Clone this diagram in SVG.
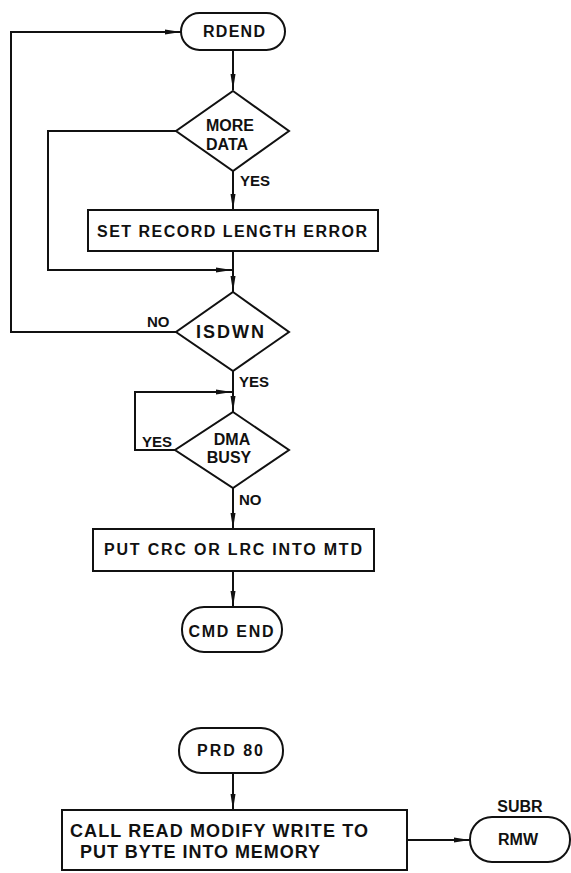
<svg xmlns="http://www.w3.org/2000/svg" width="571" height="873" viewBox="0 0 571 873">
<defs>
<marker id="ah" viewBox="0 0 16 6" refX="16" refY="3" markerWidth="16" markerHeight="6" markerUnits="userSpaceOnUse" orient="auto">
<path d="M0,0.5 L16,3 L0,5.5 Z" fill="#111"/>
</marker>
<style>
.s{fill:#fff;stroke:#111;stroke-width:2}
.c{fill:none;stroke:#111;stroke-width:2}
.t{font-family:"Liberation Sans",Arial,sans-serif;font-size:16px;font-weight:bold;fill:#111;text-anchor:middle}
.l{font-family:"Liberation Sans",Arial,sans-serif;font-size:15px;font-weight:bold;fill:#111}
.big{font-size:18px}
</style>
</defs>
<rect width="571" height="873" fill="#fff"/>
<g id="connectors">
<path class="c" d="M233,50 V90" marker-end="url(#ah)"/>
<path class="c" d="M233,171 V210" marker-end="url(#ah)"/>
<path class="c" d="M176,131 H48 V270 H232" marker-end="url(#ah)"/>
<path class="c" d="M233,251 V292" marker-end="url(#ah)"/>
<path class="c" d="M176,332 H11 V32 H181" marker-end="url(#ah)"/>
<path class="c" d="M233,371 V412" marker-end="url(#ah)"/>
<path class="c" d="M175,450 H135 V392 H232" marker-end="url(#ah)"/>
<path class="c" d="M233,488 V529" marker-end="url(#ah)"/>
<path class="c" d="M233,571 V607" marker-end="url(#ah)"/>
<path class="c" d="M233,773 V810" marker-end="url(#ah)"/>
<path class="c" d="M407,840 H470" marker-end="url(#ah)"/>
<text class="l" x="240" y="186">YES</text>
<text class="l" x="147" y="327">NO</text>
<text class="l" x="239" y="387">YES</text>
<text class="l" x="142" y="447">YES</text>
<text class="l" x="239" y="505">NO</text>
</g>
<g id="rdend">
<rect class="s" x="181" y="13" width="104" height="37" rx="18.5"/>
<text class="t" x="234" y="37" textLength="62">RDEND</text>
</g>
<g id="more-data">
<polygon class="s" points="233,91 289,131 233,171 176,131"/>
<text class="t" x="230" y="131">MORE</text>
<text class="t" x="227" y="150">DATA</text>
</g>
<g id="set-record">
<rect class="s" x="88" y="210" width="290" height="41"/>
<text class="t" x="232" y="237" textLength="270">SET RECORD LENGTH ERROR</text>
</g>
<g id="isdwn">
<polygon class="s" points="233,292 289,332 233,371 176,332"/>
<text class="t big" x="230" y="338" textLength="68">ISDWN</text>
</g>
<g id="dma-busy">
<polygon class="s" points="233,412 289,450 233,488 175,450"/>
<text class="t" x="232" y="445">DMA</text>
<text class="t" x="229" y="463">BUSY</text>
</g>
<g id="put-crc">
<rect class="s" x="93" y="529" width="281" height="42"/>
<text class="t" x="233" y="555" textLength="258">PUT CRC OR LRC INTO MTD</text>
</g>
<g id="cmd-end">
<rect class="s" x="182" y="607" width="100" height="45" rx="22"/>
<text class="t" x="231" y="637" textLength="85">CMD END</text>
</g>
<g id="prd80">
<rect class="s" x="179" y="728" width="104" height="45" rx="22"/>
<text class="t" x="230" y="756" textLength="66">PRD 80</text>
</g>
<g id="call-rmw">
<rect class="s" x="62" y="810" width="345" height="60"/>
<text class="l big" x="70" y="837" textLength="298">CALL READ MODIFY WRITE TO</text>
<text class="l big" x="80" y="858" textLength="240">PUT BYTE INTO MEMORY</text>
</g>
<g id="rmw">
<text class="t" x="520" y="812">SUBR</text>
<rect class="s" x="470" y="817" width="100" height="45" rx="22"/>
<text class="t" x="518" y="845">RMW</text>
</g>
</svg>
